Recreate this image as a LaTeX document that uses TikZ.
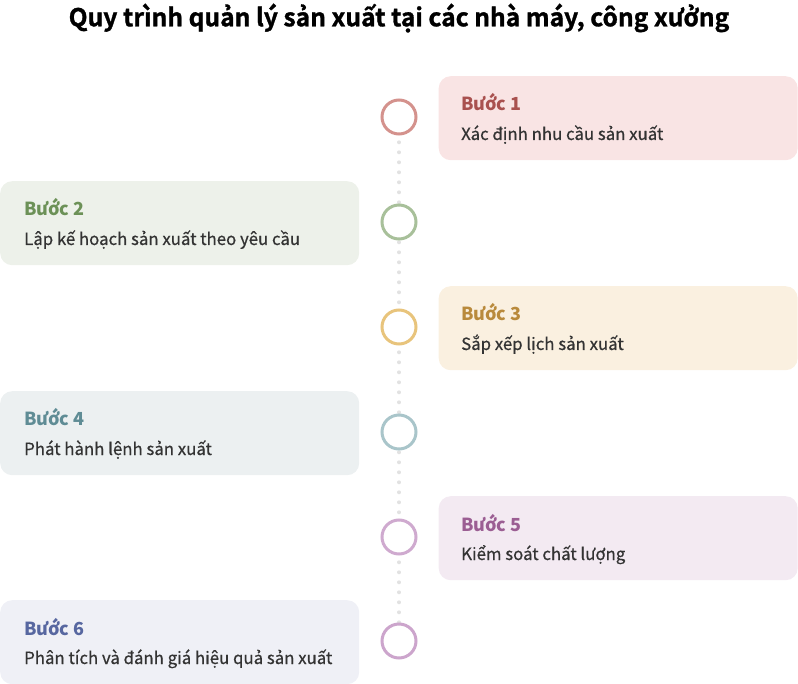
\documentclass[tikz,border=0pt]{standalone}
\usepackage{fontspec}
\setmainfont{Noto Sans CJK SC}
\newfontfamily\titlefont{Noto Sans CJK SC Bold}[FakeBold=1.2]
\newfontfamily\descfont{Noto Sans CJK SC}[FakeBold=0.6]
\definecolor{fA}{HTML}{F9E4E4}\definecolor{lA}{HTML}{A9514F}\definecolor{cA}{HTML}{D4928D}
\definecolor{fB}{HTML}{EDF1EA}\definecolor{lB}{HTML}{6C9157}\definecolor{cB}{HTML}{A8C09A}
\definecolor{fC}{HTML}{FAF0E0}\definecolor{lC}{HTML}{B98A3C}\definecolor{cC}{HTML}{E8C47C}
\definecolor{fD}{HTML}{ECF0F1}\definecolor{lD}{HTML}{5F8C95}\definecolor{cD}{HTML}{A9C5CA}
\definecolor{fE}{HTML}{F3EAF2}\definecolor{lE}{HTML}{9B5E93}\definecolor{cE}{HTML}{CFAACF}
\definecolor{fF}{HTML}{EFF0F6}\definecolor{lF}{HTML}{5767A0}\definecolor{cF}{HTML}{CCA5CC}
\definecolor{txt}{HTML}{333333}
\definecolor{dotc}{HTML}{E2E2E2}
\begin{document}
\begin{tikzpicture}[x=1pt,y=-1pt,
  card/.style={rounded corners=12pt, minimum width=359pt, minimum height=84pt, inner sep=0pt, draw=none},
  ring/.style={circle, minimum size=34pt, inner sep=0pt, line width=3pt, fill=white},
  steplbl/.style={anchor=base west, font=\bfseries\fontsize{18}{20}\selectfont, inner sep=0pt},
  desc/.style={anchor=base west, font=\descfont\fontsize{16.8}{18}\selectfont, text=txt, inner sep=0pt}]
\useasboundingbox (0,0) rectangle (798,684);
\node[font=\titlefont\fontsize{24.6}{28}\selectfont, text=black] (title) at (399,18) {Quy trình quản lý sản xuất tại các nhà máy, công xưởng};
% cards
\node[card, fill=fA, anchor=north west] (b1) at (438.5,76) {};
\node[card, fill=fB, anchor=north west] (b2) at (0,181) {};
\node[card, fill=fC, anchor=north west] (b3) at (438.5,286) {};
\node[card, fill=fD, anchor=north west] (b4) at (0,391) {};
\node[card, fill=fE, anchor=north west] (b5) at (438.5,496) {};
\node[card, fill=fF, anchor=north west] (b6) at (0,600) {};
% rings coords
\coordinate (p1) at (399,117);
\coordinate (p6) at (399,641);
\draw[dotc, line width=4pt, line cap=round, dash pattern=on 0pt off 10pt, dash phase=4.7pt] (p1) -- (p6);
\node[ring, draw=cA] (c1) at (399,117) {};
\node[ring, draw=cB] (c2) at (399,222) {};
\node[ring, draw=cC] (c3) at (399,327) {};
\node[ring, draw=cD] (c4) at (399,432) {};
\node[ring, draw=cE] (c5) at (399,537) {};
\node[ring, draw=cF] (c6) at (399,641) {};
% texts
\node[steplbl, text=lA] (s1) at (461,111) {Bước 1};
\node[desc] (d1) at (461,140) {Xác định nhu cầu sản xuất};
\node[steplbl, text=lB] (s2) at (24,216) {Bước 2};
\node[desc] (d2) at (24,245) {Lập kế hoạch sản xuất theo yêu cầu};
\node[steplbl, text=lC] (s3) at (461,321) {Bước 3};
\node[desc] (d3) at (461,350) {Sắp xếp lịch sản xuất};
\node[steplbl, text=lD] (s4) at (24,426) {Bước 4};
\node[desc] (d4) at (24,455) {Phát hành lệnh sản xuất};
\node[steplbl, text=lE] (s5) at (461,531) {Bước 5};
\node[desc] (d5) at (461,560) {Kiểm soát chất lượng};
\node[steplbl, text=lF] (s6) at (24,635) {Bước 6};
\node[desc] (d6) at (24,664) {Phân tích và đánh giá hiệu quả sản xuất};
\end{tikzpicture}
\end{document}
